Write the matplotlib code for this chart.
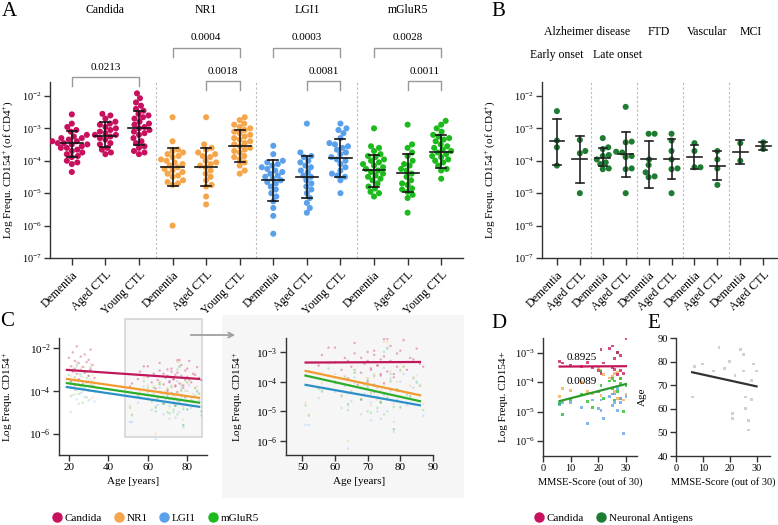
import matplotlib
matplotlib.use("Agg")
import matplotlib.pyplot as plt
import numpy as np
from matplotlib.lines import Line2D
from matplotlib.patches import Rectangle, FancyArrowPatch
from matplotlib.ticker import NullLocator
from matplotlib.transforms import blended_transform_factory

plt.rcParams['font.family'] = 'Liberation Serif'
plt.rcParams['mathtext.fontset'] = 'custom'
plt.rcParams['mathtext.rm'] = 'Liberation Serif'
plt.rcParams['mathtext.it'] = 'Liberation Serif:italic'
plt.rcParams['mathtext.bf'] = 'Liberation Serif:bold'

# ---------------- data: panel A (frequency CD154+ of CD4+) ----------------
candida_dementia = [2.7e-3, 1.4e-3, 1.1e-3, 8.9e-4, 7.9e-4, 6.3e-4, 5.6e-4, 5.0e-4, 5.0e-4, 4.5e-4,
                    4.0e-4, 4.0e-4, 3.5e-4, 3.5e-4, 3.2e-4, 3.2e-4, 2.8e-4, 2.5e-4, 2.5e-4, 2.2e-4,
                    2.0e-4, 1.8e-4, 1.6e-4, 1.4e-4, 1.3e-4, 1.0e-4, 8.9e-5, 7.9e-5, 4.5e-5]
candida_aged = [2.8e-3, 2.5e-3, 2.0e-3, 1.6e-3, 1.4e-3, 1.3e-3, 1.1e-3, 1.0e-3, 8.9e-4, 7.9e-4, 7.1e-4,
                6.3e-4, 6.3e-4, 5.6e-4, 5.0e-4, 4.5e-4, 3.5e-4, 3.2e-4, 2.5e-4, 2.2e-4, 1.8e-4, 1.6e-4]
candida_young = [1.2e-2, 8.5e-3, 6.3e-3, 5.0e-3, 4.0e-3, 3.5e-3, 2.8e-3, 2.5e-3, 2.2e-3, 2.0e-3,
                 1.6e-3, 1.4e-3, 1.3e-3, 1.1e-3, 1.0e-3, 8.9e-4, 7.9e-4, 7.1e-4, 6.3e-4, 5.0e-4,
                 4.0e-4, 3.5e-4, 2.8e-4, 2.5e-4, 2.0e-4, 1.8e-4, 1.6e-4]
nr1_dementia = [2.2e-3, 4.0e-4, 2.2e-4, 2.0e-4, 1.8e-4, 1.6e-4, 1.4e-4, 1.3e-4, 1.1e-4, 1.0e-4,
                8.9e-5, 7.9e-5, 7.1e-5, 6.3e-5, 5.6e-5, 5.0e-5, 4.5e-5, 4.0e-5, 3.5e-5, 3.2e-5,
                2.5e-5, 2.2e-5, 2.0e-5, 1.8e-5, 1.0e-6]
nr1_aged = [2.2e-3, 3.2e-4, 2.5e-4, 2.2e-4, 1.8e-4, 1.6e-4, 1.4e-4, 1.3e-4, 1.0e-4, 8.9e-5, 7.9e-5,
            7.1e-5, 6.3e-5, 5.0e-5, 4.0e-5, 3.2e-5, 2.5e-5, 1.8e-5, 1.6e-5, 7.9e-6, 4.5e-6]
nr1_young = [2.2e-3, 1.8e-3, 1.4e-3, 1.3e-3, 1.1e-3, 1.0e-3, 8.9e-4, 7.9e-4, 7.1e-4, 6.3e-4, 5.6e-4,
             5.0e-4, 4.5e-4, 4.0e-4, 3.5e-4, 3.2e-4, 2.8e-4, 2.5e-4, 2.2e-4, 2.0e-4, 1.8e-4, 1.4e-4,
             1.3e-4, 1.1e-4, 8.9e-5, 7.1e-5, 5.0e-5, 4.0e-5]
lgi1_dementia = [2.9e-4, 1.6e-4, 1.0e-4, 8.9e-5, 7.9e-5, 7.1e-5, 6.3e-5, 5.6e-5, 5.0e-5, 4.5e-5,
                 4.0e-5, 3.5e-5, 3.2e-5, 2.8e-5, 2.5e-5, 2.2e-5, 2.0e-5, 1.6e-5, 1.3e-5, 1.0e-5,
                 7.9e-6, 5.6e-6, 3.5e-6, 2.0e-6, 5.6e-7]
lgi1_aged = [1.4e-3, 1.8e-4, 1.4e-4, 1.3e-4, 1.0e-4, 8.9e-5, 7.1e-5, 6.3e-5, 5.0e-5, 4.5e-5, 3.5e-5,
             3.2e-5, 2.5e-5, 2.0e-5, 1.6e-5, 1.3e-5, 1.0e-5, 7.1e-6, 5.0e-6, 3.5e-6, 2.5e-6]
lgi1_young = [1.4e-3, 1.0e-3, 8.9e-4, 7.1e-4, 5.0e-4, 3.5e-4, 3.2e-4, 2.8e-4, 2.5e-4, 2.2e-4, 1.8e-4,
              1.6e-4, 1.3e-4, 1.1e-4, 1.0e-4, 7.9e-5, 6.3e-5, 5.0e-5, 4.0e-5, 3.5e-5, 3.2e-5,
              2.5e-5, 1.0e-5]
mglur5_dementia = [1.0e-3, 2.8e-4, 2.5e-4, 2.0e-4, 1.6e-4, 1.4e-4, 1.3e-4, 1.1e-4, 1.0e-4, 8.9e-5,
                   7.9e-5, 7.1e-5, 6.3e-5, 5.6e-5, 5.0e-5, 4.5e-5, 4.0e-5, 3.5e-5, 3.2e-5, 2.8e-5,
                   2.5e-5, 2.0e-5, 1.6e-5, 1.4e-5, 1.1e-5, 1.0e-5, 7.9e-6]
mglur5_aged = [1.3e-3, 3.2e-4, 2.5e-4, 1.8e-4, 1.4e-4, 1.0e-4, 7.9e-5, 7.1e-5, 5.6e-5, 5.0e-5, 4.0e-5,
               3.2e-5, 2.5e-5, 2.0e-5, 1.8e-5, 1.4e-5, 1.3e-5, 1.1e-5, 8.9e-6, 7.1e-6, 2.5e-6]
mglur5_young = [1.7e-3, 1.3e-3, 1.0e-3, 7.9e-4, 6.3e-4, 5.6e-4, 5.0e-4, 4.5e-4, 4.0e-4, 3.2e-4,
                2.8e-4, 2.5e-4, 2.2e-4, 2.0e-4, 1.8e-4, 1.6e-4, 1.4e-4, 1.3e-4, 1.1e-4, 1.0e-4,
                8.9e-5, 7.1e-5, 5.6e-5, 5.0e-5, 2.8e-5]

antigens = ['Candida', 'NR1', 'LGI1', 'mGluR5']
cohorts = ['Dementia', 'Aged CTL', 'Young CTL']
# geometric mean and SD limits per group (same order as groups)
a_center = [3.5e-4, 6.0e-4, 1.0e-3, 6.6e-5, 6.6e-5, 2.9e-4, 2.5e-5, 3.2e-5, 1.2e-4, 5.1e-5, 4.3e-5, 1.8e-4]
a_low = [1.3e-4, 2.6e-4, 3.0e-4, 1.7e-5, 1.7e-5, 9.1e-5, 5.9e-6, 7.1e-6, 3.2e-5, 1.5e-5, 1.05e-5, 5.9e-5]
a_high = [8.5e-4, 1.6e-3, 3.4e-3, 2.5e-4, 2.5e-4, 8.9e-4, 1.05e-4, 1.4e-4, 4.6e-4, 1.55e-4, 1.6e-4, 6.2e-4]
p_brackets = [(0, 2, '0.0213'), (3, 5, '0.0004'), (4, 5, '0.0018'), (6, 8, '0.0003'),
              (7, 8, '0.0081'), (9, 11, '0.0028'), (10, 11, '0.0011')]

# ---------------- data: panel B (neuronal antigens by diagnosis) ----------------
ad_early_dementia = [3.4e-3, 4.2e-4, 2.6e-4, 7.1e-5]
ad_early_ctl = [4.4e-4, 2.0e-4, 1.7e-4, 1.0e-5]
ad_late_dementia = [5.0e-4, 2.6e-4, 2.3e-4, 1.5e-4, 1.4e-4, 1.1e-4, 8.9e-5, 7.9e-5, 5.8e-5, 5.5e-5]
ad_late_ctl = [4.6e-3, 3.9e-4, 3.7e-4, 1.9e-4, 1.8e-4, 1.4e-4, 1.3e-4, 5.8e-5, 5.5e-5, 1.0e-5]
ftd_dementia = [6.8e-4, 6.8e-4, 1.1e-4, 7.4e-5, 4.4e-5, 3.3e-5, 3.1e-5]
ftd_ctl = [6.8e-4, 4.2e-4, 2.0e-4, 1.1e-4, 5.8e-5, 5.5e-5, 1.0e-5]
vasc_dementia = [3.5e-4, 2.0e-4, 6.3e-5, 6.3e-5]
vasc_ctl = [2.0e-4, 1.1e-4, 5.8e-5, 1.8e-5]
mci_dementia = [3.5e-4, 1.0e-4]
mci_ctl = [3.7e-4, 2.3e-4]
b_center = [4.0e-4, 1.1e-4, 1.2e-4, 1.6e-4, 1.1e-4, 1.1e-4, 1.3e-4, 6.8e-5, 1.9e-4, 2.8e-4]
b_low = [7.4e-5, 2.1e-5, 6.8e-5, 3.2e-5, 1.4e-5, 2.8e-5, 5.5e-5, 2.5e-5, 7.9e-5, 2.1e-4]
b_high = [2.0e-3, 6.0e-4, 2.5e-4, 7.9e-4, 4.0e-4, 4.7e-4, 3.1e-4, 2.0e-4, 4.4e-4, 3.7e-4]
b_cohorts = ['Dementia', 'Aged CTL'] * 5

# ---------------- data: panel C (age of each donor, same order as panel A lists) ----------------
ages_young = [24, 31, 22, 28, 26, 20, 30, 23, 29, 25, 32, 21, 27, 23, 31, 26, 22, 28, 24, 30,
              33, 25, 21, 29, 27, 23, 32, 31]
ages_dementia = [75, 58, 80, 66, 72, 63, 84, 70, 77, 60, 69, 86, 73, 55, 79, 65, 71, 82, 62, 76,
                 68, 74, 51, 78, 64, 70, 75, 67, 72]
ages_aged = [76, 81, 66, 77, 60, 85, 72, 70, 79, 56, 75, 83, 68, 74, 64, 80, 73, 87, 71, 52, 78, 74]
fit_all_age = [19, 86]
fit_all = {'Candida': [9.5e-4, 3.6e-4], 'NR1': [3.6e-4, 4.7e-5],
           'LGI1': [1.5e-4, 1.8e-5], 'mGluR5': [2.3e-4, 2.8e-5]}
fit_old_age = [51, 86]
fit_old = {'Candida': [4.4e-4, 4.6e-4], 'NR1': [2.3e-4, 3.5e-5],
           'LGI1': [7.8e-5, 1.6e-5], 'mGluR5': [1.6e-4, 2.2e-5]}

# ---------------- data: panels D and E (MMSE) ----------------
mmse = [6, 7, 10, 14, 16, 18, 20, 21, 21, 22, 24, 25, 25, 26, 26, 27, 27, 28, 28, 29, 30]
d_candida = [5.2e-4, 4.5e-4, 3.8e-4, 3.5e-4, 4.8e-4, 3.2e-4, 2.5e-4, 1.3e-3, 2.0e-4, 4.5e-4, 1.4e-3,
             1.7e-3, 3.2e-4, 2.7e-4, 6.3e-4, 1.0e-3, 1.8e-4, 7.9e-4, 2.5e-4, 2.0e-4, 2.9e-3]
d_nr1 = [3.2e-5, 6.3e-5, 5.2e-5, 1.0e-4, 5.0e-5, 4.0e-5, 3.2e-4, 2.5e-4, 3.5e-5, 1.8e-4, 1.4e-4,
         1.6e-4, 4.0e-5, 5.0e-5, 2.0e-4, 2.2e-4, 2.8e-5, 2.8e-5, 1.3e-4, 2.5e-5, 4.0e-5]
d_lgi1 = [1.8e-5, 2.0e-5, 2.0e-5, 1.4e-5, 4.0e-6, 2.5e-5, 1.3e-5, 2.5e-5, 1.1e-5, 6.0e-6, 3.2e-5,
          4.0e-5, 1.6e-5, 2.0e-5, 4.0e-5, 6.3e-5, 1.1e-5, 2.8e-5, 2.0e-5, 1.8e-6, 3.2e-5]
d_mglur5 = [1.9e-5, 7.9e-6, 2.5e-5, 4.0e-5, 2.2e-5, 1.4e-5, 5.0e-5, 2.3e-4, 7.9e-5, 2.8e-5, 1.1e-4,
            1.3e-4, 6.3e-5, 2.5e-5, 1.1e-4, 1.0e-3, 5.0e-5, 8.9e-5, 1.3e-4, 1.0e-5, 7.9e-5]
d_fit_x = [6, 30]
d_fit_candida = [3.4e-4, 3.5e-4]
d_fit_neuronal = [2.3e-5, 8.7e-5]
d_p = ['0.8925', '0.0089']
e_age = [65, 78, 79, 76, 86, 77, 80, 58, 56, 74, 85, 76, 83, 65, 60, 55, 51, 64, 72, 79, 76]
e_fit_x = [6, 30]
e_fit_age = [75.5, 69.5]

colors = {'Candida': '#c8105e', 'NR1': '#f5a54a', 'LGI1': '#5aa0ea', 'mGluR5': '#1cba1c'}
line_colors = {'Candida': '#c2185b', 'NR1': '#f39a30', 'LGI1': '#2b8fc9', 'mGluR5': '#2cae2c'}
dark_green = '#1e7b32'

W, H = 778, 525
fig = plt.figure(figsize=(W / 100, H / 100), dpi=100)


def box(l, t, r, b):
    return [l / W, 1 - b / H, (r - l) / W, (b - t) / H]


def style(ax, fs=7.5):
    for s in ['top', 'right']:
        ax.spines[s].set_visible(False)
    for s in ['left', 'bottom']:
        ax.spines[s].set_color('#333333')
        ax.spines[s].set_linewidth(1.0)
    ax.tick_params(colors='#333333', labelcolor='black', length=4, width=1, labelsize=fs, pad=2)


def swarm(ax, x0, vals, d=5.6):
    pts = ax.transData.transform(np.column_stack([np.full(len(vals), float(x0)), vals]))
    px0 = pts[0, 0]
    ys = pts[:, 1]
    xs = np.full(len(vals), px0)
    placed = []
    for i in np.argsort(ys):
        y = ys[i]
        x = px0
        for k in range(400):
            x = px0 + ((k + 1) // 2) * 0.5 * (1 if k % 2 == 1 else -1)
            if all((x - qx) ** 2 + (y - qy) ** 2 >= d * d for qx, qy in placed):
                break
        placed.append((x, y))
        xs[i] = x
    return ax.transData.inverted().transform(np.column_stack([xs, ys]))[:, 0]


def mean_sd(ax, x, c, lo, hi, wc, wcap, color):
    ax.plot([x, x], [lo, hi], color=color, lw=1.2, zorder=4)
    ax.plot([x - wc, x + wc], [c, c], color=color, lw=1.2, zorder=4)
    ax.plot([x - wcap, x + wcap], [lo, lo], color=color, lw=1.2, zorder=4)
    ax.plot([x - wcap, x + wcap], [hi, hi], color=color, lw=1.2, zorder=4)


# ================= panel A =================
axA = fig.add_axes(box(50, 82, 463, 258))
style(axA)
axA.set_yscale('log')
axA.set_ylim(1e-7, 10 ** -1.57)
axA.set_xlim(-0.65, 11.65)
axA.set_yticks([1e-7, 1e-6, 1e-5, 1e-4, 1e-3, 1e-2])
axA.yaxis.set_minor_locator(NullLocator())
a_groups = [candida_dementia, candida_aged, candida_young, nr1_dementia, nr1_aged, nr1_young,
            lgi1_dementia, lgi1_aged, lgi1_young, mglur5_dementia, mglur5_aged, mglur5_young]
axA.set_xticks(range(12))
axA.set_xticklabels(cohorts * 4, rotation=45, ha='right', rotation_mode='anchor', fontsize=8.5)
axA.tick_params(axis='x', length=5, pad=3)
for i, vals in enumerate(a_groups):
    col = colors[antigens[i // 3]]
    axA.scatter(swarm(axA, i, vals), vals, s=19, color=col, edgecolors='none', zorder=3)
    mean_sd(axA, i, a_center[i], a_low[i], a_high[i], 0.33, 0.15, '#151515')
for xs in [2.5, 5.5, 8.5]:
    axA.axvline(xs, color='#bbbbbb', lw=0.8, ls=(0, (2, 2)), zorder=1)
axA.set_ylabel('Log Frequ. CD154$^{+}$ (of CD4$^{+}$)', fontsize=8)
axA.yaxis.set_label_coords(-0.085, 0.5)
trA = blended_transform_factory(axA.transData, axA.transAxes)
for k, name in enumerate(antigens):
    axA.text(3 * k + 1, (258 - 10) / 176, name, transform=trA, ha='center', va='center', fontsize=8.5)
for x1, x2, txt in p_brackets:
    ypx = 77 if x1 == 0 else (48 if x2 - x1 == 2 else 81)
    yl = (258 - ypx) / 176
    leg = 9 / 176
    axA.plot([x1, x1, x2, x2], [yl - leg, yl, yl, yl - leg], color='#999999', lw=1,
             transform=trA, clip_on=False)
    axA.text((x1 + x2) / 2, yl + 10 / 176, txt, transform=trA, ha='center', va='center',
             fontsize=8)

# ================= panel B =================
axB = fig.add_axes(box(542, 82, 777, 258))
style(axB)
axB.set_yscale('log')
axB.set_ylim(1e-7, 10 ** -1.57)
axB.set_xlim(-0.65, 9.6)
axB.set_yticks([1e-7, 1e-6, 1e-5, 1e-4, 1e-3, 1e-2])
axB.yaxis.set_minor_locator(NullLocator())
b_groups = [ad_early_dementia, ad_early_ctl, ad_late_dementia, ad_late_ctl, ftd_dementia, ftd_ctl,
            vasc_dementia, vasc_ctl, mci_dementia, mci_ctl]
axB.set_xticks(range(10))
axB.set_xticklabels(b_cohorts, rotation=45, ha='right', rotation_mode='anchor', fontsize=8.5)
axB.tick_params(axis='x', length=5, pad=3)
for i, vals in enumerate(b_groups):
    axB.scatter(swarm(axB, i, vals), vals, s=19, color=dark_green, edgecolors='none', zorder=3)
    mean_sd(axB, i, b_center[i], b_low[i], b_high[i], 0.32, 0.17, '#222222')
for xs in [1.5, 3.5, 5.5, 7.5]:
    axB.axvline(xs, color='#bbbbbb', lw=0.8, ls=(0, (2, 2)), zorder=1)
axB.set_ylabel('Log Frequ. CD154$^{+}$ (of CD4$^{+}$)', fontsize=8)
axB.yaxis.set_label_coords(-0.19, 0.5)
trB = blended_transform_factory(axB.transData, axB.transAxes)
for x, name in [(1.33, 'Alzheimer disease'), (4.45, 'FTD'), (6.53, 'Vascular'), (8.45, 'MCI')]:
    axB.text(x, (258 - 32) / 176, name, transform=trB, ha='center', va='center', fontsize=8.5)
for x, name in [(0.0, 'Early onset'), (2.65, 'Late onset')]:
    axB.text(x, (258 - 55) / 176, name, transform=trB, ha='center', va='center', fontsize=8.5)

# ================= panel C =================
bg = Rectangle((222 / W, 1 - 498 / H), (464 - 222) / W, (498 - 315) / H, transform=fig.transFigure,
               facecolor='#f6f6f6', edgecolor='none', zorder=-1)
fig.patches.append(bg)

old_sets = {'Candida': (candida_dementia, candida_aged), 'NR1': (nr1_dementia, nr1_aged),
            'LGI1': (lgi1_dementia, lgi1_aged), 'mGluR5': (mglur5_dementia, mglur5_aged)}
young_sets = {'Candida': candida_young, 'NR1': nr1_young, 'LGI1': lgi1_young, 'mGluR5': mglur5_young}

axC1 = fig.add_axes(box(59, 338, 207, 455))
style(axC1, 8)
axC1.set_yscale('log')
axC1.set_ylim(1e-7, 10 ** -1.53)
axC1.set_xlim(15, 90)
axC1.set_xticks([20, 40, 60, 80])
axC1.set_yticks([1e-6, 1e-4, 1e-2])
axC1.yaxis.set_minor_locator(NullLocator())
axC2 = fig.add_axes(box(286, 338, 433, 455))
axC2.patch.set_alpha(0)
style(axC2, 8)
axC2.set_yscale('log')
axC2.set_ylim(10 ** -6.47, 10 ** -2.53)
axC2.set_xlim(45, 90)
axC2.set_xticks([50, 60, 70, 80, 90])
axC2.set_yticks([1e-6, 1e-5, 1e-4, 1e-3])
axC2.yaxis.set_minor_locator(NullLocator())
for name in antigens:
    dem, aged = old_sets[name]
    yg = young_sets[name]
    a = 0.35 if name == 'Candida' else 0.25
    for ax in (axC1, axC2):
        ax.scatter(ages_dementia[:len(dem)], dem, s=3, color=colors[name], alpha=a,
                   edgecolors='none', zorder=2)
        ax.scatter(ages_aged[:len(aged)], aged, s=3, color=colors[name], alpha=a,
                   edgecolors='none', zorder=2)
    axC1.scatter(ages_young[:len(yg)], yg, s=3, color=colors[name], alpha=a,
                 edgecolors='none', zorder=2)
for name in ['Candida', 'NR1', 'mGluR5', 'LGI1']:
    axC1.plot(fit_all_age, fit_all[name], color=line_colors[name], lw=1.6, zorder=3)
    axC2.plot(fit_old_age, fit_old[name], color=line_colors[name], lw=1.6, zorder=3)
for ax, lx in [(axC1, -0.30), (axC2, -0.28)]:
    ax.set_ylabel('Log Frequ. CD154$^{+}$', fontsize=8)
    ax.yaxis.set_label_coords(lx, 0.5)
    ax.set_xlabel('Age [years]', fontsize=8, labelpad=3)
trC = blended_transform_factory(axC1.transData, axC1.transAxes)
axC1.add_patch(Rectangle((48.5, (455 - 437) / 117), 39.0, (437 - 319) / 117, transform=trC,
                         facecolor='#f3f3f3', alpha=0.6, edgecolor='#bdbdbd', lw=1.2,
                         clip_on=False, zorder=1))
fig.add_artist(FancyArrowPatch((188 / W, 1 - 335 / H), (238 / W, 1 - 335 / H),
                               transform=fig.transFigure, arrowstyle='->', mutation_scale=9,
                               color='#a0a0a0', lw=1.3))

# ================= panel D =================
axD = fig.add_axes(box(543, 338, 637, 456))
style(axD, 7.5)
axD.set_yscale('log')
axD.set_ylim(10 ** -6.5, 10 ** -2.5)
axD.set_xlim(0, 34)
axD.set_xticks([0, 10, 20, 30])
axD.set_yticks([1e-6, 1e-5, 1e-4, 1e-3])
axD.yaxis.set_minor_locator(NullLocator())
for name, vals in [('NR1', d_nr1), ('LGI1', d_lgi1), ('mGluR5', d_mglur5), ('Candida', d_candida)]:
    axD.scatter(mmse, vals, s=4, marker='s', color=colors[name], alpha=0.75, edgecolors='none', zorder=2)
axD.plot(d_fit_x, d_fit_candida, color=line_colors['Candida'], lw=1.6, zorder=3)
axD.plot(d_fit_x, d_fit_neuronal, color='#2a9a2a', lw=1.6, zorder=3)
axD.text(8.5, d_fit_candida[0] * 2.0, d_p[0], fontsize=8, va='center')
axD.text(8.5, d_fit_neuronal[0] * 4.6, d_p[1], fontsize=8, va='center')
axD.set_ylabel('Log Frequ. CD154+', fontsize=8)
axD.yaxis.set_label_coords(-0.37, 0.5)
axD.set_xlabel('MMSE-Score (out of 30)', fontsize=7.5, labelpad=3)

# ================= panel E =================
axE = fig.add_axes(box(676, 338, 770, 456))
style(axE, 7.5)
axE.set_ylim(40, 90)
axE.set_xlim(0, 35)
axE.set_xticks([0, 10, 20, 30])
axE.set_yticks([40, 50, 60, 70, 80, 90])
axE.scatter(mmse, e_age, s=4, marker='s', color='#d0d0d0', edgecolors='none', zorder=2)
axE.plot(e_fit_x, e_fit_age, color='#333333', lw=1.6, zorder=3)
axE.set_ylabel('Age', fontsize=8)
axE.yaxis.set_label_coords(-0.31, 0.5)
axE.set_xlabel('MMSE-Score (out of 30)', fontsize=7.5, labelpad=3)

# ================= letters and legends =================
for letter, x, y in [('A', 2, 2), ('B', 491, 2), ('C', 0, 312), ('D', 491, 314), ('E', 647, 314)]:
    fig.text(x / W, 1 - y / H, letter, fontsize=15, va='top', ha='left')

h1 = [Line2D([], [], marker='o', ls='', ms=6.5, color=colors[n]) for n in antigens]
fig.legend(h1, antigens, loc='center left', bbox_to_anchor=(46 / W, 1 - 518 / H), ncol=4,
           frameon=False, fontsize=8, handletextpad=0.1, columnspacing=0.9, borderaxespad=0,
           handlelength=1.2)
h2 = [Line2D([], [], marker='o', ls='', ms=6.5, color=colors['Candida']),
      Line2D([], [], marker='o', ls='', ms=6.5, color=dark_green)]
fig.legend(h2, ['Candida', 'Neuronal Antigens'], loc='center left',
           bbox_to_anchor=(528 / W, 1 - 518 / H), ncol=2, frameon=False, fontsize=8,
           handletextpad=0.1, columnspacing=0.9, borderaxespad=0, handlelength=1.2)

fig.savefig('out.png', dpi=100)
